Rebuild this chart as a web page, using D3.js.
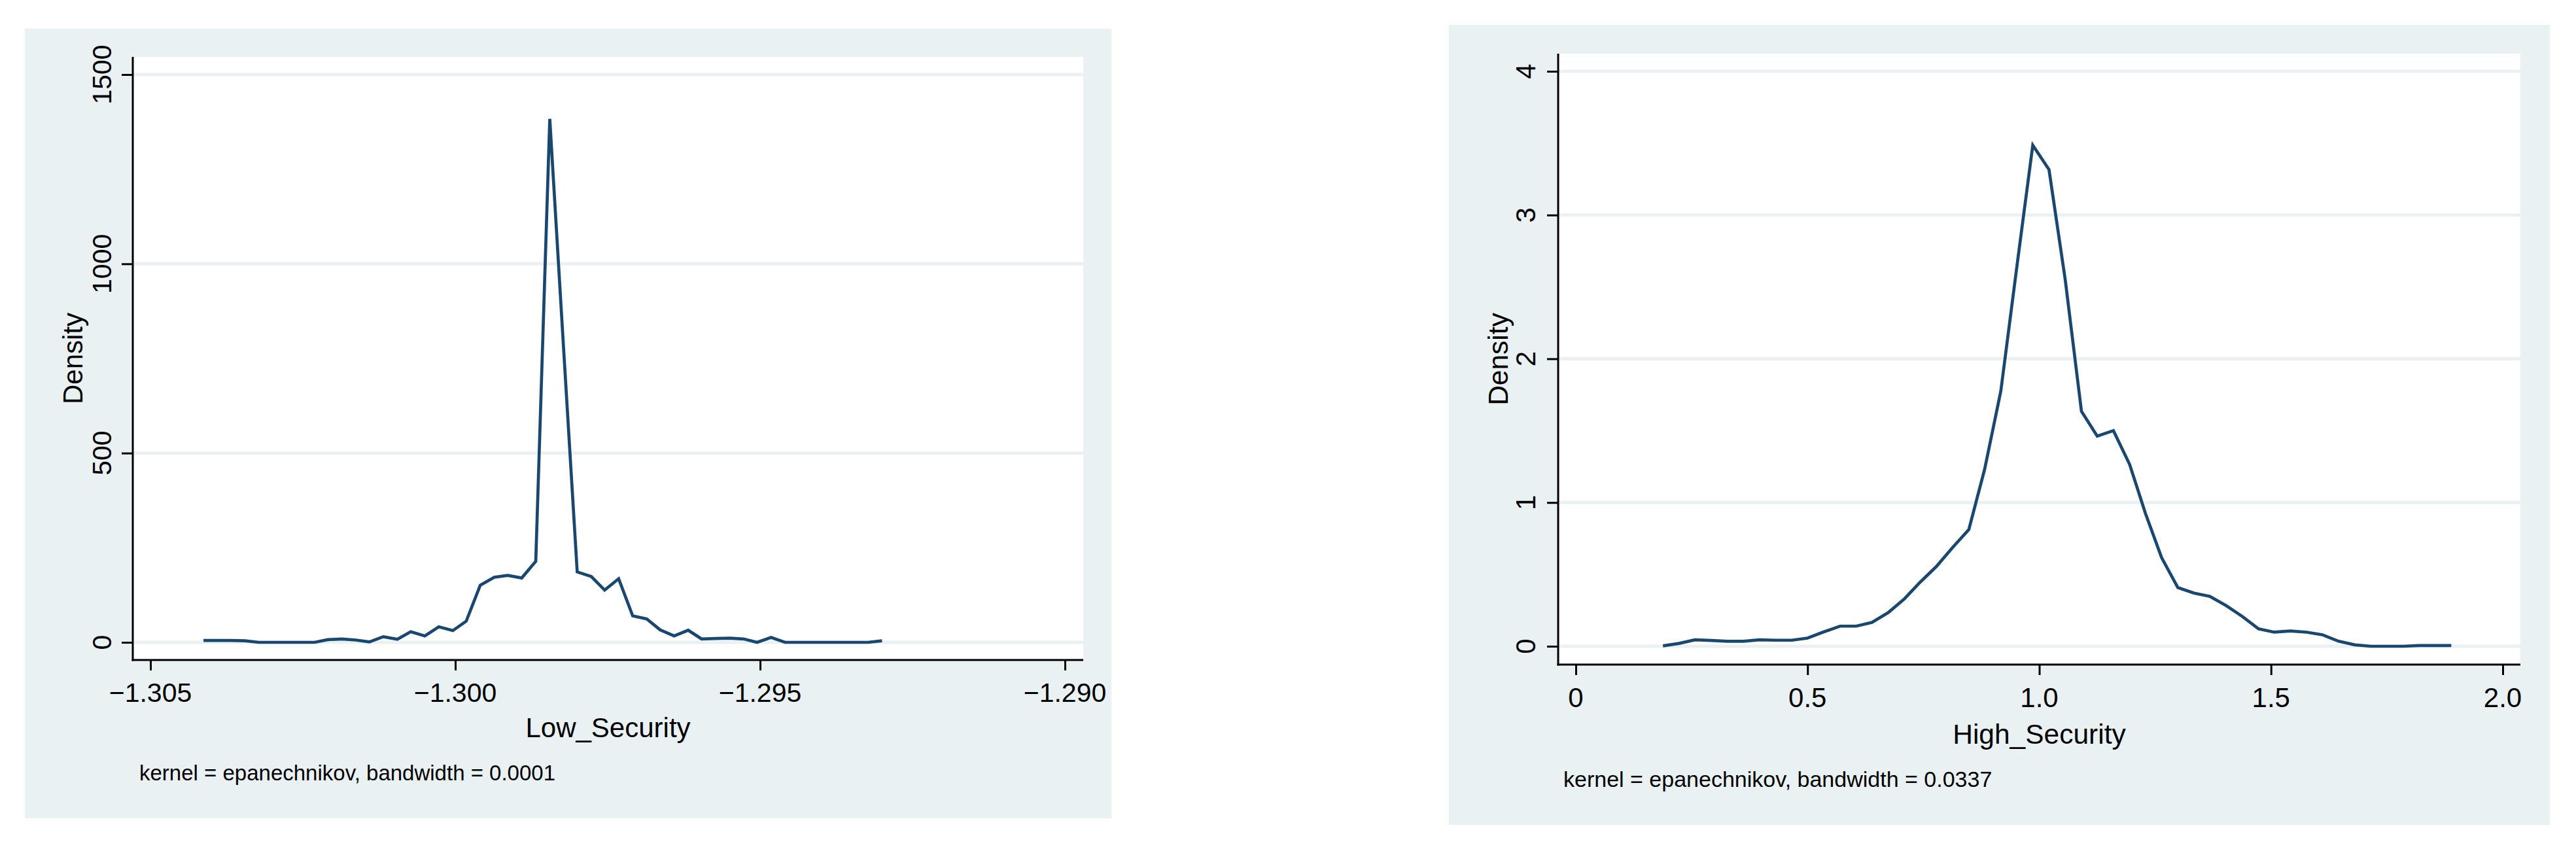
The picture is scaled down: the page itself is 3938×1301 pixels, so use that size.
<!DOCTYPE html>
<html>
<head>
<meta charset="utf-8">
<script src="https://cdn.jsdelivr.net/npm/d3@7"></script>
<style>
  html, body { margin: 0; padding: 0; background: #ffffff; }
  svg { display: block; }
  text { font-family: "Liberation Sans", Arial, Helvetica, sans-serif; fill: #000; }
</style>
</head>
<body>
<svg id="chart" width="3938" height="1301"></svg>
<script>
// ---------------- DATA ----------------
const lowX = [
  -1.30413, -1.30390, -1.30368, -1.30345, -1.30322, -1.30300, -1.30277, -1.30254, -1.30231, -1.30209,
  -1.30186, -1.30163, -1.30141, -1.30118, -1.30095, -1.30073, -1.30050, -1.30027, -1.30004, -1.29982,
  -1.29959, -1.29936, -1.29914, -1.29891, -1.29868, -1.29845, -1.29823, -1.29800, -1.29777, -1.29755,
  -1.29732, -1.29709, -1.29686, -1.29664, -1.29641, -1.29618, -1.29596, -1.29573, -1.29550, -1.29527,
  -1.29505, -1.29482, -1.29459, -1.29437, -1.29414, -1.29391, -1.29368, -1.29346, -1.29323, -1.29300
];
const lowDensity = [
  5, 5, 5, 4, 0, 0, 0, 0, 0, 7,
  9, 6, 1, 15, 8, 28, 17, 41, 31, 56,
  151, 172, 177, 170, 214, 1383, 794, 186, 174, 138,
  168, 70, 62, 33, 17, 32, 9, 10, 11, 9,
  0, 13, 0, 0, 0, 0, 0, 0, 0, 4
];
const highX = [
  0.188, 0.223, 0.257, 0.292, 0.327, 0.362, 0.396, 0.431, 0.466, 0.500,
  0.535, 0.570, 0.605, 0.639, 0.674, 0.709, 0.743, 0.778, 0.813, 0.848,
  0.882, 0.917, 0.952, 0.986, 1.021, 1.056, 1.091, 1.125, 1.160, 1.195,
  1.229, 1.264, 1.299, 1.334, 1.368, 1.403, 1.438, 1.473, 1.507, 1.542,
  1.577, 1.611, 1.646, 1.681, 1.716, 1.750, 1.785, 1.820, 1.854, 1.889
];
const highDensity = [
  0.003, 0.020, 0.045, 0.040, 0.035, 0.035, 0.045, 0.042, 0.042, 0.057,
  0.100, 0.140, 0.140, 0.166, 0.234, 0.330, 0.446, 0.555, 0.687, 0.812,
  1.230, 1.775, 2.650, 3.486, 3.316, 2.550, 1.635, 1.462, 1.500, 1.265,
  0.925, 0.616, 0.408, 0.370, 0.347, 0.283, 0.208, 0.121, 0.098, 0.106,
  0.098, 0.080, 0.035, 0.010, 0.000, 0.000, 0.000, 0.005, 0.005, 0.005
];
const lowXTicks = [-1.305, -1.300, -1.295, -1.290];
const lowXTickLabels = ["\u22121.305", "\u22121.300", "\u22121.295", "\u22121.290"];
const lowYTicks = [0, 500, 1000, 1500];
const lowYTickLabels = ["0", "500", "1000", "1500"];
const highXTicks = [0, 0.5, 1.0, 1.5, 2.0];
const highXTickLabels = ["0", "0.5", "1.0", "1.5", "2.0"];
const highYTicks = [0, 1, 2, 3, 4];
const highYTickLabels = ["0", "1", "2", "3", "4"];
const yTitle = "Density";
const lowTitle = "Low_Security";
const highTitle = "High_Security";
const lowNote = "kernel = epanechnikov, bandwidth = 0.0001";
const highNote = "kernel = epanechnikov, bandwidth = 0.0337";

// ---------------- LAYOUT ----------------
const BG = "#EAF1F3";
const GRID = "#EAF1F3";
const LINE = "#1A476F";

const panels = [
  {
    xs: lowX, ys: lowDensity,
    xTicks: lowXTicks, xLabels: lowXTickLabels,
    yTicks: lowYTicks, yLabels: lowYTickLabels,
    title: lowTitle, note: lowNote,
    bg: {x0: 38, y0: 44, x1: 1699, y1: 1251},
    plot: {x0: 203, y0: 87, x1: 1656, y1: 1009},
    xRange: [230, 1628], yRange: [982, 114],
    fTick: 41, fTitle: 42, fNote: 33,
    yLabelGap: 33, yTitleGap: 77, xLabelOff: 64, xTitleOff: 118, noteOff: 184, noteX: 10
  },
  {
    xs: highX, ys: highDensity,
    xTicks: highXTicks, xLabels: highXTickLabels,
    yTicks: highYTicks, yLabels: highYTickLabels,
    title: highTitle, note: highNote,
    bg: {x0: 2215, y0: 38, x1: 3898, y1: 1261},
    plot: {x0: 2382, y0: 82, x1: 3853, y1: 1016},
    xRange: [2409, 3826], yRange: [988, 109],
    fTick: 42, fTitle: 42.5, fNote: 34,
    yLabelGap: 35, yTitleGap: 77, xLabelOff: 65, xTitleOff: 121, noteOff: 187, noteX: 8
  }
];

const svg = d3.select("#chart");
svg.append("rect").attr("width", 3938).attr("height", 1301).attr("fill", "#ffffff");

panels.forEach(p => {
  const g = svg.append("g");
  const x = d3.scaleLinear()
    .domain([p.xTicks[0], p.xTicks[p.xTicks.length - 1]])
    .range(p.xRange);
  const y = d3.scaleLinear()
    .domain([p.yTicks[0], p.yTicks[p.yTicks.length - 1]])
    .range(p.yRange);

  // graph region background
  g.append("rect")
    .attr("x", p.bg.x0).attr("y", p.bg.y0)
    .attr("width", p.bg.x1 - p.bg.x0).attr("height", p.bg.y1 - p.bg.y0)
    .attr("fill", BG);
  // plot region
  g.append("rect")
    .attr("x", p.plot.x0).attr("y", p.plot.y0)
    .attr("width", p.plot.x1 - p.plot.x0).attr("height", p.plot.y1 - p.plot.y0)
    .attr("fill", "#ffffff");

  // grid lines
  g.append("g").selectAll("line").data(p.yTicks).join("line")
    .attr("x1", p.plot.x0).attr("x2", p.plot.x1)
    .attr("y1", d => y(d)).attr("y2", d => y(d))
    .attr("stroke", GRID).attr("stroke-width", 5);

  // density curve
  const pts = p.xs.map((v, i) => [v, p.ys[i]]);
  g.append("path")
    .datum(pts)
    .attr("d", d3.line().x(d => x(d[0])).y(d => y(d[1])))
    .attr("fill", "none")
    .attr("stroke", LINE)
    .attr("stroke-width", 4.7)
    .attr("stroke-linejoin", "miter")
    .attr("stroke-miterlimit", 20)
    .attr("stroke-linecap", "butt");

  // y axis (left)
  const yAxis = d3.axisLeft(y)
    .tickValues(p.yTicks)
    .tickSize(17)
    .tickFormat((d, i) => p.yLabels[i]);
  const ya = g.append("g").attr("transform", `translate(${p.plot.x0},0)`).call(yAxis);
  ya.select(".domain").remove();
  ya.selectAll(".tick line").attr("stroke", "#000").attr("stroke-width", 3);
  ya.selectAll(".tick text").remove();
  g.append("line")
    .attr("x1", p.plot.x0).attr("x2", p.plot.x0)
    .attr("y1", p.plot.y0).attr("y2", p.plot.y1 + 1.5)
    .attr("stroke", "#000").attr("stroke-width", 3);
  g.append("g").selectAll("text").data(p.yTicks).join("text")
    .attr("transform", d => `translate(${p.plot.x0 - p.yLabelGap},${y(d)}) rotate(-90)`)
    .attr("text-anchor", "middle")
    .attr("font-size", p.fTick)
    .text((d, i) => p.yLabels[i]);

  // x axis (bottom)
  const xAxis = d3.axisBottom(x)
    .tickValues(p.xTicks)
    .tickSize(16)
    .tickFormat((d, i) => p.xLabels[i]);
  const xa = g.append("g").attr("transform", `translate(0,${p.plot.y1})`).call(xAxis);
  xa.select(".domain").remove();
  xa.selectAll(".tick line").attr("stroke", "#000").attr("stroke-width", 3);
  xa.selectAll(".tick text").remove();
  g.append("line")
    .attr("x1", p.plot.x0 - 1.5).attr("x2", p.plot.x1)
    .attr("y1", p.plot.y1).attr("y2", p.plot.y1)
    .attr("stroke", "#000").attr("stroke-width", 3);
  g.append("g").selectAll("text").data(p.xTicks).join("text")
    .attr("x", d => x(d))
    .attr("y", p.plot.y1 + p.xLabelOff)
    .attr("text-anchor", "middle")
    .attr("font-size", p.fTick)
    .text((d, i) => p.xLabels[i]);

  // axis titles
  const cy = (p.plot.y0 + p.plot.y1) / 2;
  g.append("text")
    .attr("transform", `translate(${p.plot.x0 - p.yTitleGap},${cy}) rotate(-90)`)
    .attr("text-anchor", "middle")
    .attr("font-size", p.fTitle)
    .text(yTitle);
  g.append("text")
    .attr("x", (p.plot.x0 + p.plot.x1) / 2)
    .attr("y", p.plot.y1 + p.xTitleOff)
    .attr("text-anchor", "middle")
    .attr("font-size", p.fTitle)
    .text(p.title);

  // note
  g.append("text")
    .attr("x", p.plot.x0 + p.noteX)
    .attr("y", p.plot.y1 + p.noteOff)
    .attr("font-size", p.fNote)
    .text(p.note);
});
</script>
</body>
</html>
